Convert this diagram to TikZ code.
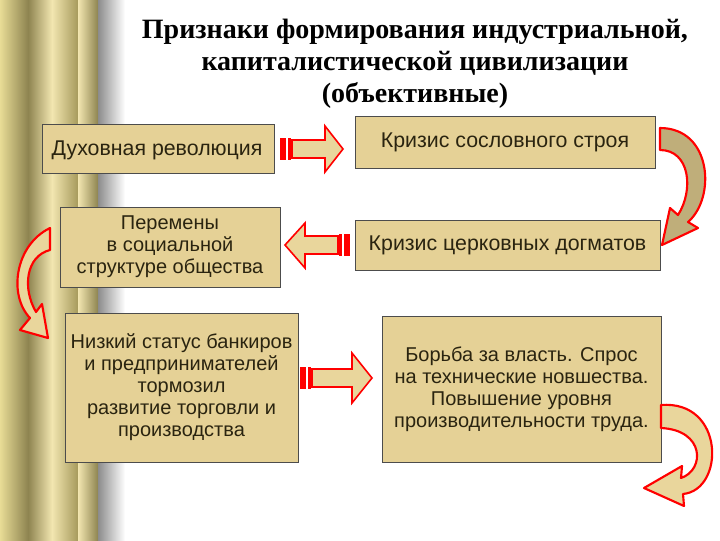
\documentclass[tikz,border=0pt]{standalone}
\usepackage{fontspec}
\setmainfont{Liberation Serif}
\newfontfamily\boxfont{Liberation Sans}
\definecolor{boxfill}{HTML}{E5D196}
\definecolor{boxtext}{HTML}{2A2410}
\definecolor{arrfill}{HTML}{E9D69C}
\definecolor{curvefill}{HTML}{BFAE7A}
\definecolor{goldA}{HTML}{E8DC96}
\definecolor{goldB}{HTML}{8E8450}
\definecolor{goldC}{HTML}{F2E6B0}
\definecolor{goldD}{HTML}{A69A5C}
\definecolor{grayS}{HTML}{8C8C8C}
\begin{document}
\begin{tikzpicture}[x=0.75pt,y=-0.75pt,
  box/.style={draw=black!70,fill=boxfill,line width=0.6pt,font=\boxfont\fontsize{15}{16.5}\selectfont,text=boxtext,align=center,inner sep=0pt},
  big/.style={font=\boxfont\fontsize{16}{17}\selectfont},
  barr/.style={draw=red,fill=arrfill,line width=1.2pt,line join=miter},
  bars/.style={fill=red},
  carr/.style={draw=red,fill=curvefill,line width=1.6pt,line join=round}]
\useasboundingbox (0,0) rectangle (720,540);
% background column
\fill[white] (0,0) rectangle (720,540);
\shade[left color=goldA,right color=goldB] (0,0) rectangle (28,540);
\shade[left color=goldB,right color=goldC] (28,0) rectangle (52,540);
\shade[left color=goldC,right color=goldD] (52,0) rectangle (78,540);
\shade[left color=goldC,right color=goldB] (78,0) rectangle (98,540);
\shade[left color=grayS,right color=white] (98,0) rectangle (125,540);
% title
\node[font=\bfseries\fontsize{21}{24}\selectfont,align=center] (title) at (415,64)
  {Признаки формирования индустриальной,\\капиталистической цивилизации\\(объективные)};
% boxes
\node[box,minimum width=232*0.75pt,minimum height=49*0.75pt] (b1) at (158,148.5) {};
\node[big,text=boxtext,anchor=west] at (47,150) {Духовная революция};
\node[box,big,minimum width=300*0.75pt,minimum height=52*0.75pt] (b2) at (505,142) {Кризис сословного строя};
\node[box,minimum width=220*0.75pt,minimum height=80*0.75pt] (b3) at (170,247) {Перемены\\в социальной\\структуре общества};
\node[box,big,minimum width=305*0.75pt,minimum height=50*0.75pt] (b4) at (507.5,245) {Кризис церковных догматов};
\node[box,minimum width=233*0.75pt,minimum height=149*0.75pt] (b5) at (181.5,387.5) {Низкий статус банкиров\\и предпринимателей\\тормозил\\развитие торговли и\\производства};
\node[box,minimum width=279*0.75pt,minimum height=146*0.75pt] (b6) at (521.5,389) {Борьба за власть. Спрос\\на технические новшества.\\Повышение уровня\\производительности труда.};
% straight arrows
\draw[barr] (292,140) -- (325,140) -- (325,126) -- (343,149) -- (325,172) -- (325,158) -- (292,158) -- cycle;
\fill[bars] (280,138) rectangle (286,160);
\fill[bars] (288,138) rectangle (291,160);
\draw[barr] (338,236) -- (305,236) -- (305,223) -- (285,245) -- (305,268) -- (305,254) -- (338,254) -- cycle;
\fill[bars] (339,234) rectangle (342,256);
\fill[bars] (344,234) rectangle (350,256);
\draw[barr] (312,369) -- (352,369) -- (352,353) -- (372,378) -- (352,403) -- (352,387) -- (312,387) -- cycle;
\fill[bars] (300,367) rectangle (306,389);
\fill[bars] (308,367) rectangle (311,389);
% curved arrows
\coordinate (c1) at (660,128);
\draw[carr] (c1) .. controls (712,128) and (716,198) .. (688,222) -- (698,228) -- (662,245) -- (670,208) -- (678,215) .. controls (694,190) and (690,150) .. (660,150) -- cycle;
\coordinate (c2) at (50,228);
\draw[carr,fill=arrfill] (c2) .. controls (15,245) and (8,295) .. (30,318) -- (20,330) -- (48,338) -- (42,304) -- (36,312) .. controls (22,288) and (26,256) .. (50,250) -- cycle;
\coordinate (c3) at (661,405);
\draw[carr,fill=arrfill] (c3) .. controls (725,400) and (725,490) .. (683,494) -- (684,506) -- (644,488) -- (682,466) -- (681,478) .. controls (705,470) and (705,430) .. (661,428) -- cycle;
\end{tikzpicture}
\end{document}
